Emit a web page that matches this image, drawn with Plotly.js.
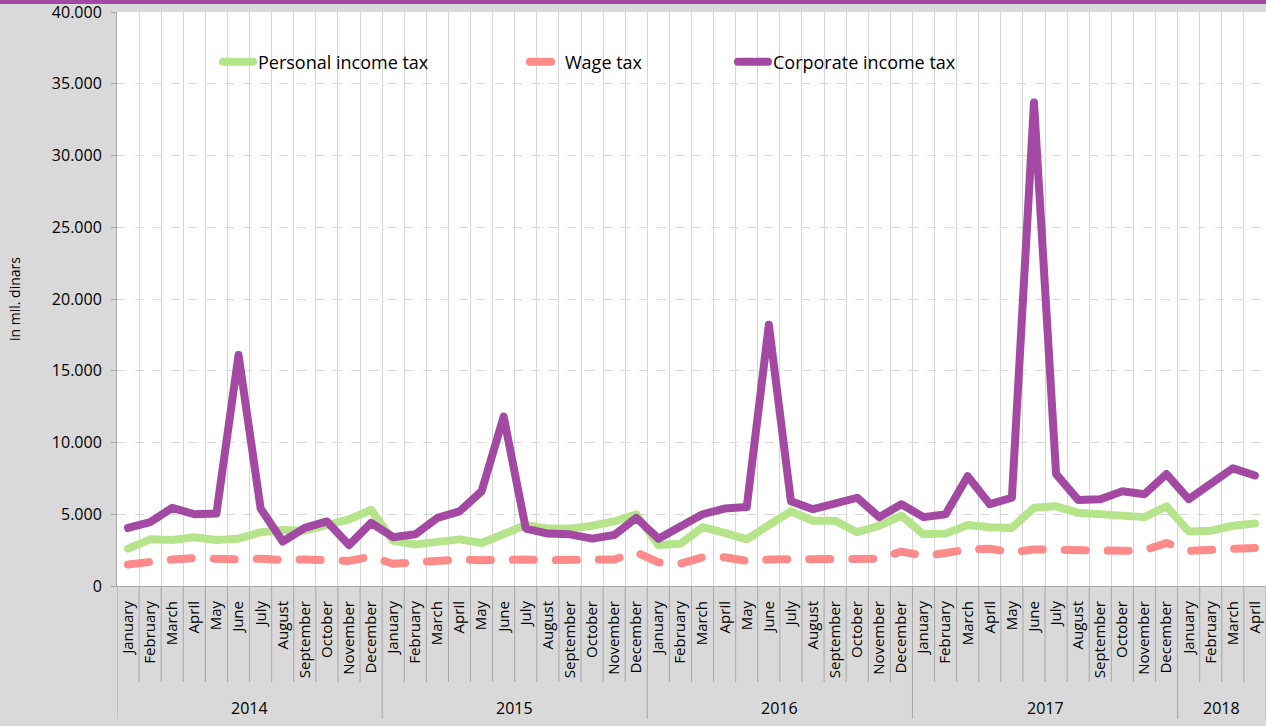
<!DOCTYPE html>
<html>
<head>
<meta charset="utf-8">
<script src="https://cdn.plot.ly/plotly-3.0.1.min.js"></script>
<style>
  html, body { margin: 0; padding: 0; background: #d9d9d9; }
  #chart { width: 1266px; height: 726px; }
  #chart path.js-line { stroke-linejoin: round; stroke-linecap: round; }
</style>
</head>
<body>
<div id="chart"></div>
<script>
// ---- data (mil. dinars) ----
const years = ['2014', '2015', '2016', '2017', '2018'];
const monthsPerYear = [12, 12, 12, 12, 4];
const monthNames = ['January', 'February', 'March', 'April', 'May', 'June', 'July',
  'August', 'September', 'October', 'November', 'December'];

const personalIncomeTax = [
  2600, 3250, 3200, 3400, 3200, 3300, 3750, 3900, 3850, 4250, 4650, 5300,
  3150, 2900, 3100, 3250, 3000, 3600, 4250, 4000, 4000, 4200, 4500, 5000,
  2850, 2950, 4100, 3700, 3250, 4250, 5200, 4550, 4550, 3750, 4200, 4900,
  3600, 3650, 4250, 4100, 4050, 5450, 5550, 5100, 5000, 4800, 4800, 5550,
  3800, 3850, 4200, 4350
];
const wageTax = [
  1500, 1700, 1850, 1950, 1850, 1850, 1900, 1800, 1850, 1850, 1750, 2050,
  1550, 1650, 1750, 1850, 1800, 1850, 1850, 1800, 1800, 1800, 1850, 2350,
  1650, 1550, 2000, 2000, 1750, 1850, 1850, 1850, 1850, 1800, 1900, 2400,
  2100, 2300, 2550, 2600, 2350, 2550, 2500, 2450, 2450, 2450, 2500, 3000,
  2450, 2500, 2600, 2650
];
const corporateIncomeTax = [
  4050, 4450, 5450, 5000, 5050, 16100, 5400, 3100, 4050, 4500, 2850, 4400,
  3400, 3600, 4750, 5200, 6600, 11800, 4000, 3650, 3600, 3300, 3550, 4750,
  3300, 4100, 5000, 5400, 5500, 18200, 5900, 5350, 5800, 6150, 4800, 5700,
  4800, 5000, 7650, 5700, 6150, 33700, 7800, 6000, 6050, 6600, 6400, 7800,
  6050, 7050, 8200, 7700
];

// ---- derived category structure ----
const monthLabels = [];
const yearStarts = [];
monthsPerYear.forEach(function (n) {
  yearStarts.push(monthLabels.length);
  for (let m = 0; m < n; m++) monthLabels.push(monthNames[m]);
});
const idx = monthLabels.map(function (_, i) { return i; });
const boundaries = [];
for (let b = 0; b <= monthLabels.length; b++) boundaries.push(b - 0.5);
const yearBoundarySet = new Set(yearStarts.concat([monthLabels.length]));
const yearCenters = yearStarts.map(function (s, yi) { return s + (monthsPerYear[yi] - 1) / 2; });

const FONT = 'Open Sans, Noto Sans, sans-serif';

const traces = [
  { name: 'Personal income tax', x: idx, y: personalIncomeTax, type: 'scatter', mode: 'lines',
    line: { color: '#b5e48a', width: 8 }, legend: 'legend' },
  { name: 'Wage tax', x: idx, y: wageTax, type: 'scatter', mode: 'lines',
    line: { color: '#ff8a8a', width: 8, dash: '21px,22px' }, legend: 'legend2' },
  { name: 'Corporate income tax', x: idx, y: corporateIncomeTax, type: 'scatter', mode: 'lines',
    line: { color: '#a349a4', width: 8 }, legend: 'legend3' }
];

// plot area: x 117..1266, y 12..586
const plotH = 574;
function pyToPaper(py) { return (586 - py) / plotH; }

const shapes = [];
// top purple band
shapes.push({ type: 'rect', xref: 'paper', yref: 'paper', x0: -0.2, x1: 1.1,
  y0: pyToPaper(4), y1: pyToPaper(-10), fillcolor: '#a349a4', line: { width: 0 } });
// separators below the axis
boundaries.forEach(function (bx, b) {
  const isYear = yearBoundarySet.has(b);
  shapes.push({ type: 'line', xref: 'x', yref: 'paper', x0: bx, x1: bx,
    y0: 0, y1: pyToPaper(isYear ? 719 : 682), line: { color: '#a6a6a6', width: 1 } });
});

const annotations = years.map(function (yr, yi) {
  return { text: yr, x: yearCenters[yi], xref: 'x', y: pyToPaper(708), yref: 'paper',
    showarrow: false, xanchor: 'center', yanchor: 'middle', font: { family: FONT, size: 16, color: '#000' } };
});

function legendAt(px) {
  return { x: (px - 117) / 1149, y: pyToPaper(62), xanchor: 'left', yanchor: 'middle',
    orientation: 'h', bgcolor: 'rgba(0,0,0,0)', borderwidth: 0,
    font: { family: FONT, size: 18, color: '#000' } };
}

const layout = {
  width: 1266, height: 726,
  margin: { l: 117, r: 0, t: 12, b: 140, pad: 0 },
  paper_bgcolor: '#d9d9d9',
  plot_bgcolor: '#ffffff',
  separators: ',.',
  font: { family: FONT, color: '#000' },
  showlegend: true,
  legend: legendAt(218),
  legend2: legendAt(525),
  legend3: legendAt(733),
  xaxis: {
    range: [-0.5, monthLabels.length - 0.5],
    tickmode: 'array', tickvals: idx, ticktext: monthLabels,
    tickangle: -90, ticks: '', showgrid: false, zeroline: false,
    showline: true, linecolor: '#a6a6a6', linewidth: 1,
    tickfont: { family: FONT, size: 15, color: '#000' },
    ticklabelstandoff: 8,
    minor: { tickmode: 'array', tickvals: boundaries, showgrid: true,
      gridcolor: '#d6d6d6', gridwidth: 1, ticks: '' },
    fixedrange: true
  },
  yaxis: {
    range: [0, 40000], tick0: 0, dtick: 5000, tickformat: ',d',
    ticks: 'outside', ticklen: 5, tickcolor: '#a6a6a6',
    showline: true, linecolor: '#a6a6a6', linewidth: 1,
    showgrid: true, gridcolor: '#d9d9d9', griddash: 'dash', gridwidth: 1,
    zeroline: false,
    tickfont: { family: FONT, size: 16, color: '#000' },
    ticklabelstandoff: 6,
    title: { text: 'in mil. dinars', font: { family: FONT, size: 14, color: '#000' }, standoff: 27 },
    fixedrange: true
  },
  shapes: shapes,
  annotations: annotations
};

Plotly.newPlot('chart', traces, layout, { displayModeBar: false, staticPlot: true });
</script>
</body>
</html>
